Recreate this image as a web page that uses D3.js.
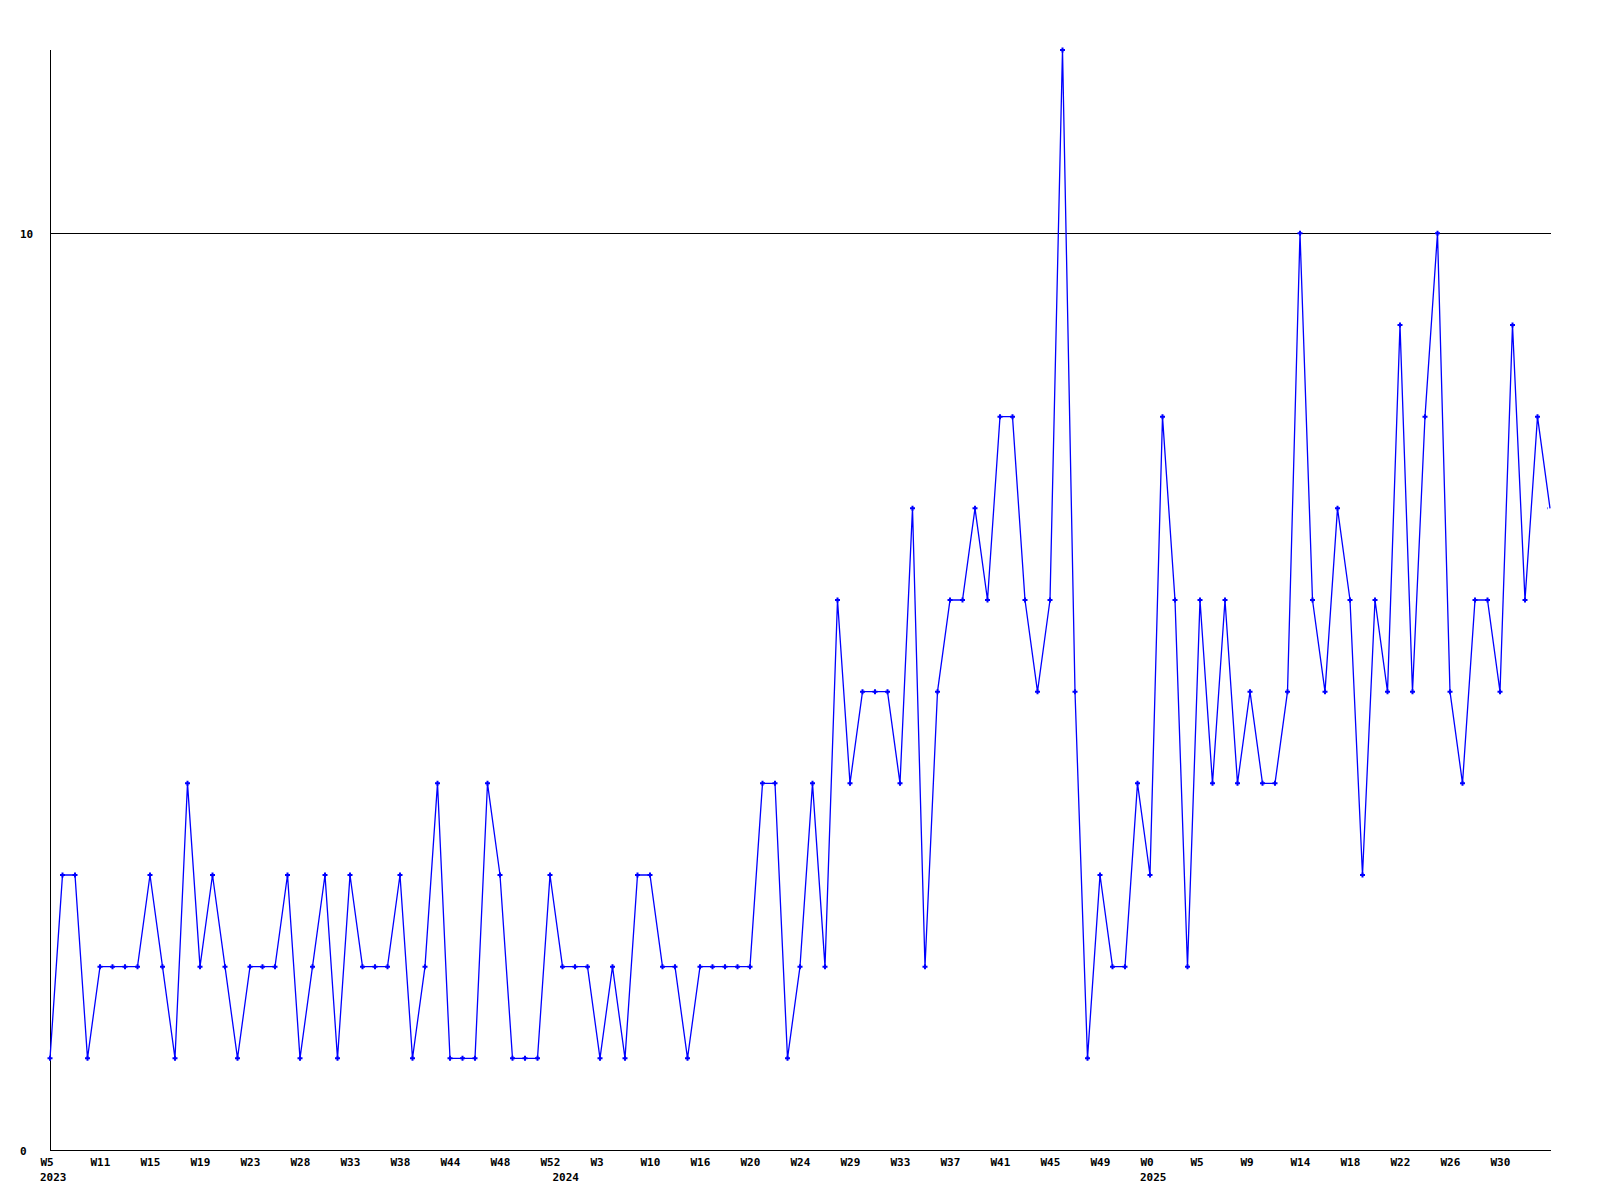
<!DOCTYPE html>
<html>
<head>
<meta charset="utf-8">
<script src="https://cdn.jsdelivr.net/npm/d3@7"></script>
<style>
  html, body { margin: 0; padding: 0; background: #fff; }
  svg text { font-family: "DejaVu Sans Mono", "Liberation Mono", monospace; font-weight: bold; font-size: 11px; fill: #000; }
</style>
</head>
<body>
<svg id="chart" width="1600" height="1200"></svg>
<script>
// Weekly values, 2023 W5 onward
const values = [
  1,3,3,1,2,2,2,2,3,2,
  1,4,2,3,2,1,2,2,2,3,
  1,2,3,1,3,2,2,2,3,1,
  2,4,1,1,1,4,3,1,1,1,
  3,2,2,2,1,2,1,3,3,2,
  2,1,2,2,2,2,2,4,4,1,
  2,4,2,6,4,5,5,5,4,7,
  2,5,6,6,7,6,8,8,6,5,
  6,12,5,1,3,2,2,4,3,8,
  6,2,6,4,6,4,5,4,4,5,
  10,6,5,7,6,3,6,5,9,5,
  8,10,5,4,6,6,5,9,6,8,
  7
];
// x tick labels, one every 4 points
const weekLabels = ["W5","W11","W15","W19","W23","W28","W33","W38","W44","W48",
  "W52","W3","W10","W16","W20","W24","W29","W33","W37","W41",
  "W45","W49","W0","W5","W9","W14","W18","W22","W26","W30"];
const weekTickStep = 4;
// year labels and the point index they sit under
const yearLabels = ["2023","2024","2025"];
const yearIndex = [0, 41, 88];
// y ticks
const yTicks = [0, 10];
const yMax = 12;
const refLine = [10];

(function () {
const svg = d3.select("#chart");
const pLeft = 50, pRight = 1550, pTop = 50, pBottom = 1150;

const x = d3.scaleLinear().domain([0, values.length - 1]).range([pLeft, pRight]);
const y = d3.scaleLinear().domain([0, yMax]).range([pBottom, pTop]);

// reference line at 10
svg.selectAll("line.ref").data(refLine).enter().append("line")
  .attr("class", "ref")
  .attr("x1", pLeft).attr("x2", pRight + 1)
  .attr("y1", d => Math.round(y(d)) + 0.5).attr("y2", d => Math.round(y(d)) + 0.5)
  .attr("stroke", "#000").attr("stroke-width", 1);

// axes lines
svg.append("line").attr("x1", pLeft + 0.5).attr("x2", pLeft + 0.5).attr("y1", pTop).attr("y2", pBottom + 0.5)
  .attr("stroke", "#000");
svg.append("line").attr("x1", pLeft).attr("x2", pRight + 1).attr("y1", pBottom + 0.5).attr("y2", pBottom + 0.5)
  .attr("stroke", "#000");

// y axis labels
const yAxis = d3.axisLeft(y).tickValues(yTicks).tickSize(0).tickFormat(d3.format("d"));
const gy = svg.append("g").attr("transform", `translate(${pLeft},0)`).call(yAxis);
gy.select(".domain").remove();
gy.selectAll("text")
  .attr("text-anchor", "start")
  .attr("x", 20 - pLeft)
  .attr("dy", null)
  .attr("y", 4);

// x axis week labels
const tickIdx = weekLabels.map((_, i) => i * weekTickStep);
const xAxis = d3.axisBottom(x).tickValues(tickIdx).tickSize(0)
  .tickFormat((d, i) => weekLabels[i]);
const gx = svg.append("g").attr("transform", `translate(0,${pBottom})`).call(xAxis);
gx.select(".domain").remove();
gx.selectAll("text")
  .attr("text-anchor", "start")
  .attr("dx", -10)
  .attr("dy", null)
  .attr("y", 16);

// year labels
svg.selectAll("text.year").data(yearLabels).enter().append("text")
  .attr("class", "year")
  .attr("x", (d, i) => x(yearIndex[i]) - 10)
  .attr("y", pBottom + 31)
  .text(d => d);

// data line
const line = d3.line().x((d, i) => x(i)).y(d => y(d));
svg.append("path").datum(values)
  .attr("d", line)
  .attr("fill", "none")
  .attr("stroke", "#0000ff")
  .attr("stroke-width", 1.3);

// markers (the last one falls off the plot edge)
svg.append("clipPath").attr("id", "mclip").append("rect")
  .attr("x", 0).attr("y", 0).attr("width", pRight - 2).attr("height", 1200);
svg.append("g").attr("clip-path", "url(#mclip)")
  .selectAll("path.m").data(values).enter().append("path")
  .attr("class", "m")
  .attr("transform", (d, i) => `translate(${x(i)},${y(d)})`)
  .attr("d", "M-1,-2.5h2v1.5h1.5v2h-1.5v1.5h-2v-1.5h-1.5v-2h1.5z")
  .attr("fill", "#0000ff");
})();
</script>
</body>
</html>
